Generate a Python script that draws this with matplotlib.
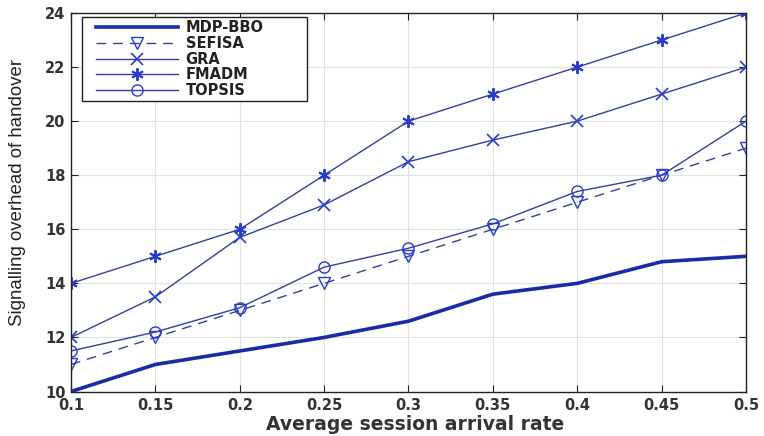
import matplotlib
matplotlib.use("Agg")
import matplotlib.pyplot as plt
from matplotlib.patches import Rectangle

x = [0.1, 0.15, 0.2, 0.25, 0.3, 0.35, 0.4, 0.45, 0.5]
mdp_bbo = [10, 11, 11.5, 12, 12.6, 13.6, 14, 14.8, 15]
sefisa = [11, 12, 13, 14, 15, 16, 17, 18, 19]
gra = [12, 13.5, 15.7, 16.9, 18.5, 19.3, 20, 21, 22]
fmadm = [14, 15, 16, 18, 20, 21, 22, 23, 24]
topsis = [11.5, 12.2, 13.1, 14.6, 15.3, 16.2, 17.4, 18, 20]
xticks = [0.1, 0.15, 0.2, 0.25, 0.3, 0.35, 0.4, 0.45, 0.5]
xticklabels = ["0.1", "0.15", "0.2", "0.25", "0.3", "0.35", "0.4", "0.45", "0.5"]
yticks = [10, 12, 14, 16, 18, 20, 22, 24]

plt.rcParams['font.family'] = ['DejaVu Sans']

W, H = 764, 436
fig = plt.figure(figsize=(W / 100, H / 100), dpi=100)
ax = fig.add_axes([71 / W, 1 - 391.5 / H, (746 - 71) / W, (391.5 - 13) / H])

c_dark = '#1a2aa8'
c_line = '#34409e'
c_mk = '#2a3ccc'
ax.plot(x, mdp_bbo, color=c_dark, lw=2.6, label='MDP-BBO')
ax.plot(x, sefisa, color=c_line, lw=1.0, ls=(0, (7, 5)), marker='v', ms=8, mfc='none', mec=c_mk, mew=1.0, label='SEFISA')
ax.plot(x, gra, color=c_line, lw=1.0, marker='x', ms=8, mec=c_mk, mew=1.2, label='GRA')
ax.plot(x, fmadm, color=c_line, lw=1.0, marker=(6, 2, 0), ms=9, mec=c_mk, mew=1.4, label='FMADM')
ax.plot(x, topsis, color=c_line, lw=1.0, marker='o', ms=8, mfc='none', mec=c_mk, mew=1.0, label='TOPSIS')

ax.set_xlim(0.1, 0.5)
ax.set_ylim(10, 24)
ax.set_xticks(xticks)
ax.set_xticklabels(xticklabels)
ax.set_yticks(yticks)
ax.grid(True, color='#e2e2e2', lw=0.8)
ax.tick_params(direction='in', length=5, labelsize=10.5, colors='#222222', top=True, right=True)
ax.tick_params(axis='x', pad=5)
ax.tick_params(axis='y', pad=4)
for lab in ax.get_xticklabels() + ax.get_yticklabels():
    lab.set_fontweight('bold')
    lab.set_color('#333333')
for sp in ax.spines.values():
    sp.set_color('#222222')
    sp.set_linewidth(1.0)

ax.set_xlabel('Average session arrival rate', fontsize=13.5, fontweight='bold', color='#333333')
ax.xaxis.set_label_coords((415 - 71) / (746 - 71), -(424 - 391.5) / (391.5 - 13))
ax.xaxis.label.set_va('center')
ax.set_ylabel('Signalling overhead of handover', fontsize=13.4, color='#222222',
              family=['Liberation Sans', 'DejaVu Sans'])
ax.yaxis.set_label_coords((26.5 - 71) / (746 - 71), (391.5 - 193) / (391.5 - 13))

# legend frame (MATLAB-style box with extra padding)
ax.add_patch(Rectangle((82 / W, 1 - 101 / H), 225 / W, 84 / H, transform=fig.transFigure,
                       facecolor='white', edgecolor='#222222', lw=1.0, zorder=4, clip_on=False))
leg = ax.legend(loc='upper left', bbox_to_anchor=(96 / W, 1 - 20.5 / H),
                bbox_transform=fig.transFigure,
                prop={'weight': 'bold', 'size': 10.5}, frameon=False,
                handlelength=5.6, handletextpad=0.55, borderpad=0.0,
                labelspacing=0.04, borderaxespad=0.0)
leg.set_zorder(5)
for t in leg.get_texts():
    t.set_color('#222222')

fig.savefig('out.png', dpi=100)
